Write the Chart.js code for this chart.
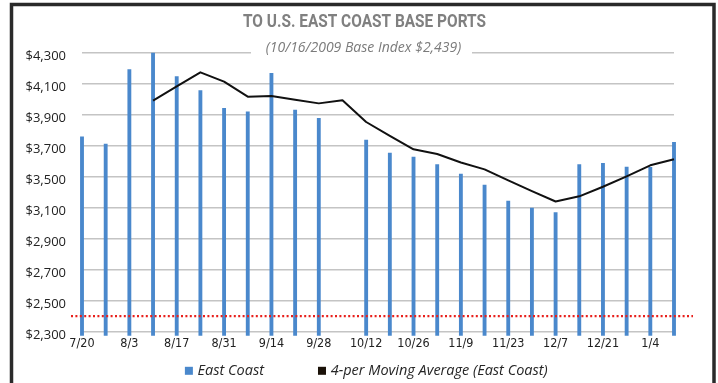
<!DOCTYPE html>
<html>
<head>
<meta charset="utf-8">
<title>To U.S. East Coast Base Ports</title>
<script src="https://cdn.jsdelivr.net/npm/chart.js@4/dist/chart.umd.min.js"></script>
<style>
  html, body { margin: 0; padding: 0; background: #fff; overflow: hidden; }
  #wrap { width: 718px; height: 383px; position: relative; }
</style>
</head>
<body>
<div id="wrap"><canvas id="chart" width="718" height="383"></canvas></div>
<script>
// Weekly sailings, 2009-2010
const weeks = ['7/20','7/27','8/3','8/10','8/17','8/24','8/31','9/7','9/14','9/21','9/28','10/5',
               '10/12','10/19','10/26','11/2','11/9','11/16','11/23','11/30','12/7','12/14',
               '12/21','12/28','1/4','1/11'];

// East Coast rate per week (no quote for 10/5)
const eastCoast = [3556,3509,3988,4095,3943,3853,3739,3717,3965,3728,3675,null,
                   3535,3451,3425,3376,3316,3245,3142,3097,3067,3376,3385,3361,3359,3520];

// 4-period moving average of the East Coast rate
const movingAvg = [null,null,null,3788,3880,3971,3911,3814,3818,3795,3771,3791,
                   3651,3561,3475,3445,3390,3346,3275,3206,3139,3172,3234,3301,3372,3411];

// Value-axis labels, bottom to top
const yTickLabels = ['$2,300','$2,500','$2,700','$2,900','$3,100','$3,500','$3,700','$3,900','$4,100','$4,300'];

// Level of the dotted base line
const baseLine = 2400;

const titleText = 'TO U.S. EAST COAST BASE PORTS';
const subtitleText = '(10/16/2009 Base Index $2,439)';

const narrowFont = "'Liberation Sans Narrow', 'Arial Narrow', 'DejaVu Sans Condensed', Roboto, sans-serif";
const bodyFont = "'Open Sans', 'Noto Sans', sans-serif";

const PAD_LEFT = 16, PAD_RIGHT = 44, PLOT_LEFT = 82, PLOT_TOP = 52.3;

// Dotted base line running a little past both ends of the plot
const baseLinePlugin = {
  id: 'baseLine',
  afterDatasetsDraw(chart) {
    const { ctx, chartArea, scales } = chart;
    const y = scales.y.getPixelForValue(baseLine);
    ctx.save();
    ctx.strokeStyle = '#e8201c';
    ctx.lineWidth = 2.2;
    ctx.setLineDash([2, 2.4]);
    ctx.beginPath();
    ctx.moveTo(chartArea.left - 11, y);
    ctx.lineTo(chartArea.right + 19, y);
    ctx.stroke();
    ctx.restore();
  }
};

// Condensed bold heading, plus the subtitle sitting on the top grid line
const headerPlugin = {
  id: 'header',
  beforeDatasetsDraw(chart) {
    const { ctx } = chart;
    ctx.save();
    ctx.font = "bold 17.5px Roboto, 'Liberation Sans', sans-serif";
    ctx.fillStyle = '#808080';
    ctx.textAlign = 'center';
    ctx.textBaseline = 'middle';
    const w = ctx.measureText(titleText).width;
    ctx.translate(364.5, 23);
    ctx.scale(243 / w, 1);
    ctx.fillText(titleText, 0, 0);
    ctx.restore();

    ctx.save();
    ctx.fillStyle = '#ffffff';
    ctx.fillRect(251, 44, 221, 14);
    ctx.font = "italic 14px " + bodyFont;
    ctx.fillStyle = '#7b7b7b';
    ctx.textAlign = 'center';
    ctx.textBaseline = 'middle';
    ctx.fillText(subtitleText, 363.5, 48.5);
    ctx.restore();
  }
};

// Legend row under the axis
const legendPlugin = {
  id: 'legendRow',
  afterDraw(chart) {
    const { ctx } = chart;
    const items = [chart.data.datasets[1], chart.data.datasets[0]];
    const swatch = [items[0].backgroundColor, '#1a1108'];
    ctx.save();
    ctx.font = "italic 14.5px " + bodyFont;
    const box = 8, textGap = 4.7, itemGap = 54;
    const widths = items.map(d => ctx.measureText(d.label).width);
    const total = widths.reduce((a, w) => a + box + textGap + w, 0) + itemGap;
    let x = 366.3 - total / 2;
    const yMid = 370.8;
    items.forEach((d, i) => {
      ctx.fillStyle = swatch[i];
      ctx.fillRect(x, yMid - box / 2, box, box);
      ctx.fillStyle = '#262626';
      ctx.textAlign = 'left';
      ctx.textBaseline = 'middle';
      ctx.fillText(d.label, x + box + textGap, yMid);
      x += box + textGap + widths[i] + itemGap;
    });
    ctx.restore();
  }
};

// Dark frame around the whole panel
const framePlugin = {
  id: 'frame',
  afterDraw(chart) {
    const { ctx } = chart;
    ctx.save();
    ctx.strokeStyle = '#2a2a2a';
    ctx.lineWidth = 3.5;
    ctx.strokeRect(11.5, 4.5, 714 - 11.5, 400);
    ctx.restore();
  }
};

new Chart(document.getElementById('chart'), {
  type: 'bar',
  data: {
    labels: weeks,
    datasets: [
      {
        type: 'line',
        label: '4-per Moving Average (East Coast)',
        data: movingAvg,
        borderColor: '#111111',
        borderWidth: 2,
        borderJoinStyle: 'round',
        pointRadius: 0,
        tension: 0,
        order: 0
      },
      {
        type: 'bar',
        label: 'East Coast',
        data: eastCoast,
        backgroundColor: '#4a88cc',
        borderWidth: 0,
        barThickness: 3.2,
        clip: 4,
        order: 1
      }
    ]
  },
  options: {
    responsive: false,
    animation: false,
    devicePixelRatio: 1,
    layout: { padding: { left: PAD_LEFT, right: PAD_RIGHT, top: PLOT_TOP, bottom: 0 } },
    plugins: {
      legend: { display: false },
      tooltip: { enabled: false },
      title: { display: false }
    },
    scales: {
      x: {
        offset: false,
        grid: { display: false, drawTicks: false },
        border: { display: false },
        ticks: {
          autoSkip: false,
          maxRotation: 0,
          padding: 5,
          color: '#222222',
          font: { family: narrowFont, size: 12.5 },
          callback: (v, i) => (i % 2 === 0 ? weeks[i] : '')
        },
        afterFit: s => { s.height = 51.3; }
      },
      y: {
        min: 2300,
        max: 4100,
        grid: { color: '#c4c4c4', lineWidth: 1.5, drawTicks: false },
        border: { display: false },
        ticks: {
          stepSize: 200,
          padding: 16,
          labelOffset: 4,
          color: '#222222',
          font: { family: bodyFont, size: 13 },
          callback: (v, i) => yTickLabels[i]
        },
        afterFit: s => { s.width = PLOT_LEFT - PAD_LEFT; }
      }
    }
  },
  plugins: [headerPlugin, baseLinePlugin, legendPlugin, framePlugin]
});
</script>
</body>
</html>
